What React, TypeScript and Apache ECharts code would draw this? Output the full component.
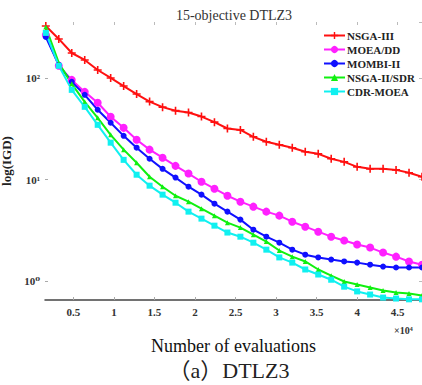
import React, { useEffect, useRef } from "react";
import * as echarts from "echarts";

const evaluations = [0.16, 0.32, 0.48, 0.64, 0.8, 0.96, 1.12, 1.28, 1.44, 1.6, 1.76, 1.92, 2.08, 2.24, 2.4, 2.56, 2.72, 2.88, 3.04, 3.2, 3.36, 3.52, 3.68, 3.84, 4.0, 4.16, 4.32, 4.48, 4.64, 4.8];

const seriesNames = ["NSGA-III", "MOEA/DD", "MOMBI-II", "NSGA-II/SDR", "CDR-MOEA"];

const nsga3 = [329, 245, 178, 152, 121, 101, 84, 70, 59, 52, 48, 46, 42, 37, 32, 31, 26.5, 23.7, 22.1, 20.7, 18.9, 18.0, 16.1, 15.0, 13.4, 12.8, 12.8, 12.5, 11.7, 10.7];
const moeadd = [268, 133, 96.6, 73.6, 57.4, 41.8, 32.5, 24.8, 19.8, 16.5, 13.7, 11.5, 9.55, 8.15, 6.95, 6.07, 5.42, 4.84, 4.42, 3.85, 3.44, 3.07, 2.74, 2.51, 2.29, 2.14, 1.91, 1.74, 1.56, 1.45];
const mombi2 = [256, 136, 92.4, 68.8, 49, 36.5, 27.1, 20.7, 16.1, 12.8, 10.5, 8.53, 7.12, 5.8, 4.84, 4.04, 3.21, 2.74, 2.39, 2.04, 1.82, 1.71, 1.63, 1.56, 1.52, 1.45, 1.39, 1.36, 1.36, 1.36];
const nsga2sdr = [321, 142, 88.3, 58.6, 40.8, 27.7, 19.8, 14.7, 10.7, 8.53, 6.95, 6.07, 5.18, 4.42, 3.77, 3.37, 2.87, 2.45, 2.0, 1.74, 1.56, 1.3, 1.13, 0.99, 0.925, 0.863, 0.806, 0.77, 0.753, 0.72];
const cdrmoea = [281, 133, 77, 52.4, 34.8, 23.2, 15.7, 11.2, 8.73, 7.12, 5.93, 4.84, 4.13, 3.52, 3.01, 2.74, 2.39, 2.04, 1.71, 1.52, 1.3, 1.16, 1.03, 0.88, 0.79, 0.736, 0.687, 0.672, 0.66, 0.66];

const seriesValues = [nsga3, moeadd, mombi2, nsga2sdr, cdrmoea];
const seriesColors = ["#ff1010", "#ff20ff", "#1010ff", "#10f010", "#10f0f0"];
const seriesSymbols = [
  "path://M4,0h2v4h4v2h-4v4h-2v-4h-4v-2h4z",
  "circle",
  "circle",
  "triangle",
  "rect",
];
const seriesSymbolSizes = [8, 8, 6, 5, 6];

const yTickLabels: Record<number, string> = { 0: "10\u2070", 1: "10\u00b9", 2: "10\u00b2" };

const SERIF = '"Liberation Serif", "Times New Roman", "DejaVu Serif", serif';

export default function App() {
  const ref = useRef<HTMLDivElement>(null);
  useEffect(() => {
    if (!ref.current) return;
    const chart = echarts.init(ref.current, undefined, { renderer: "svg" });
    const option: any = {
      animation: false,
      backgroundColor: "#ffffff",
      grid: { left: 45, right: 0, top: 22, bottom: 85, outerBoundsMode: "none" },
      legend: {
        orient: "vertical",
        left: 323,
        top: 30,
        itemWidth: 21,
        itemHeight: 9,
        itemGap: 3,
        padding: 0,
        backgroundColor: "#ffffff",
        data: seriesNames,
        textStyle: { fontFamily: SERIF, fontSize: 11, fontWeight: "bold", color: "#222", padding: [0, 0, 0, -3] },
      },
      xAxis: [
        {
          type: "value",
          min: 0.15,
          max: 4.8,
          splitNumber: 9,
          position: "bottom",
          axisLine: { show: true, lineStyle: { color: "#444", width: 1.5 } },
          axisTick: { show: true, inside: true, length: 3, lineStyle: { color: "#aaa" } },
          splitLine: { show: false },
          axisLabel: {
            showMinLabel: false,
            showMaxLabel: false,
            margin: 6,
            fontFamily: SERIF,
            fontSize: 11,
            fontWeight: "bold",
            color: "#333",
            formatter: (v: number) => (Math.abs(v * 2 - Math.round(v * 2)) < 1e-6 ? String(Math.round(v * 2) / 2) : ""),
          },
          name: "Number of evaluations",
          nameLocation: "middle",
          nameGap: 37,
          nameTextStyle: { fontFamily: SERIF, fontSize: 18, color: "#111" },
        },
        {
          type: "value",
          min: 0.15,
          max: 4.8,
          splitNumber: 9,
          position: "top",
          axisLine: { show: false },
          axisTick: { show: true, inside: true, length: 3, lineStyle: { color: "#bbb" } },
          axisLabel: { show: false },
          splitLine: { show: false },
        },
      ],
      yAxis: [
        {
          type: "log",
          logBase: 10,
          min: 0.65,
          max: 360,
          axisLine: { show: false },
          axisTick: { show: true, inside: true, length: 3, lineStyle: { color: "#aaa" } },
          splitLine: { show: false },
          axisLabel: {
            showMinLabel: false,
            showMaxLabel: false,
            margin: 5,
            fontFamily: SERIF,
            fontSize: 11,
            fontWeight: "bold",
            color: "#333",
            formatter: (v: number) => {
              const e = Math.round(Math.log10(v));
              if (Math.abs(Math.log10(v) - e) > 1e-6) return "";
              return yTickLabels[e] ?? "";
            },
          },
          name: "log(IGD)",
          nameLocation: "middle",
          nameGap: 26,
          nameTextStyle: { fontFamily: SERIF, fontSize: 13, fontWeight: "bold", color: "#222" },
        },
        {
          type: "log",
          logBase: 10,
          min: 0.65,
          max: 360,
          position: "right",
          axisLine: { show: true, lineStyle: { color: "#bbb", width: 1 } },
          axisTick: { show: true, inside: true, length: 3, lineStyle: { color: "#bbb" } },
          axisLabel: { show: false },
          splitLine: { show: false },
        },
      ],
      series: seriesNames.map((name, i) => ({
        name,
        type: "line",
        xAxisIndex: 0,
        yAxisIndex: 0,
        data: evaluations.map((x, j) => [x, seriesValues[i][j]]),
        symbol: seriesSymbols[i],
        symbolSize: seriesSymbolSizes[i],
        showAllSymbol: true,
        color: seriesColors[i],
        lineStyle: { color: seriesColors[i], width: 2 },
        itemStyle: { color: seriesColors[i] },
        clip: true,
      })),
      graphic: [
        {
          type: "text",
          x: 234,
          y: 15,
          style: {
            text: "15-objective DTLZ3",
            fontFamily: SERIF,
            fontSize: 14,
            fill: "#333",
            textAlign: "center",
            textVerticalAlign: "middle",
          },
        },
        {
          type: "text",
          x: 394,
          y: 330,
          style: {
            text: "\u00d710\u2074",
            fontFamily: SERIF,
            fontSize: 10,
            fontWeight: "bold",
            fill: "#333",
            textAlign: "left",
            textVerticalAlign: "middle",
          },
        },
        {
          type: "text",
          x: 229,
          y: 370,
          style: {
            text: "\uff08a\uff09DTLZ3",
            fontFamily: '"Liberation Serif", "Noto Sans CJK SC", serif',
            fontSize: 22,
            fill: "#222",
            textAlign: "center",
            textVerticalAlign: "middle",
          },
        },
      ],
    };
    chart.setOption(option);
    return () => chart.dispose();
  }, []);
  return <div ref={ref} style={{ position: "fixed", left: 0, top: 0, width: 422, height: 385 }} />;
}
